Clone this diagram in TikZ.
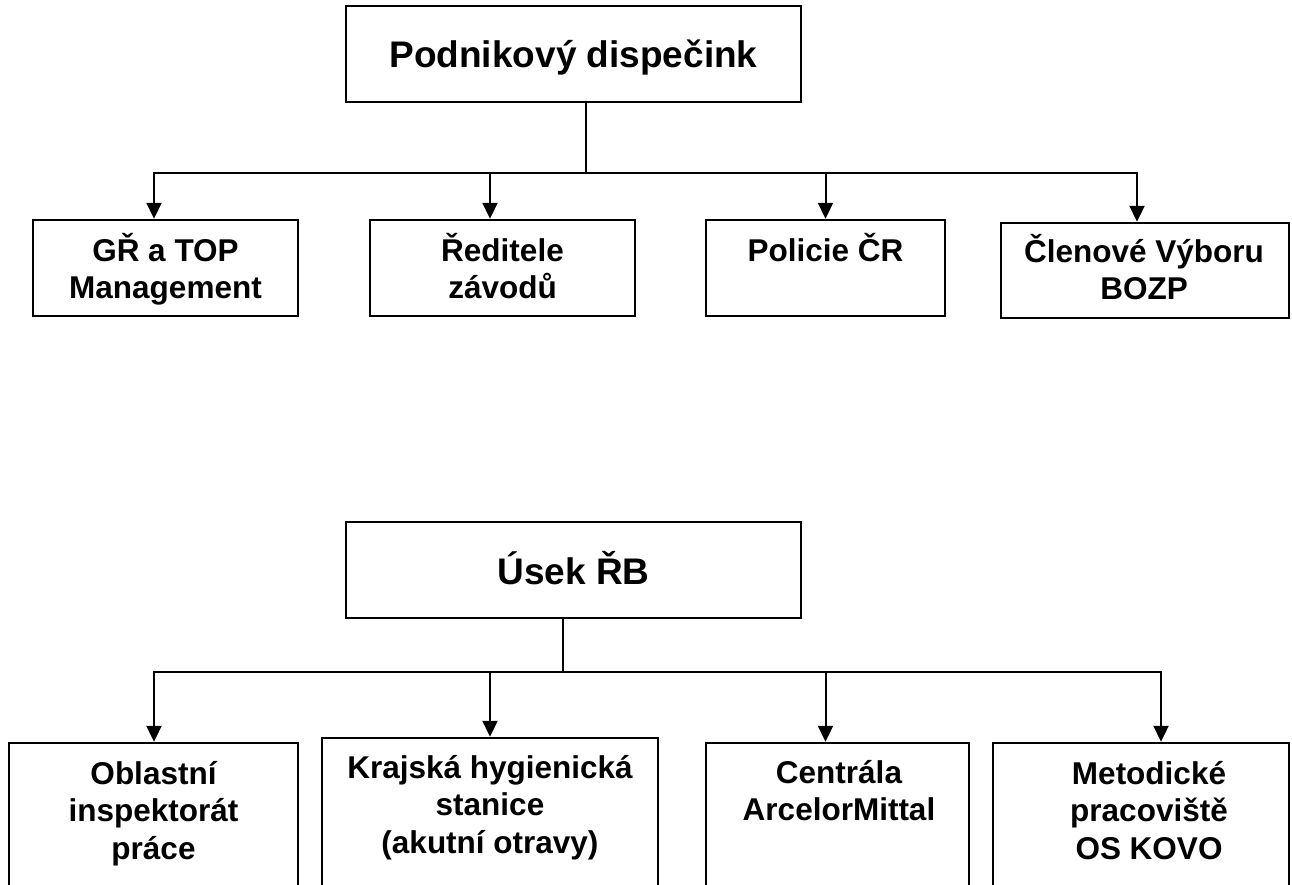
\documentclass[tikz,border=0pt]{standalone}
\usepackage{fontspec}
\setmainfont{Liberation Sans}
\usetikzlibrary{arrows.meta}
\newcommand{\fstrut}{\rule{0pt}{32pt}}
\begin{document}
\begin{tikzpicture}[x=1pt,y=-1pt,
 box/.style={draw=black, line width=2.4pt, rectangle, inner sep=0pt},
 bigtxt/.style={font=\fontsize{37}{44}\selectfont\bfseries, inner sep=0pt, anchor=base},
 smalltxt/.style={font=\fontsize{31.5}{37.5}\selectfont\bfseries, inner sep=0pt, anchor=north, align=center},
 conn/.style={line width=2pt, draw=black},
 arr/.style={conn, -{Triangle[width=15pt,length=16pt]}}]
\useasboundingbox (0,0) rectangle (1292,885);
\fill[white] (0,0) rectangle (1292,885);
\clip (0,0) rectangle (1292,885);

% ---------- upper chart ----------
\node[box, minimum width=455pt, minimum height=96pt] (top) at (573.5,54) {};
\node[bigtxt] (toptxt) at (573.5,68) {Podnikový dispečink};

\node[box, minimum width=265pt, minimum height=96pt] (g1) at (165.5,268) {};
\node[box, minimum width=265pt, minimum height=96pt] (g2) at (502.5,268) {};
\node[box, minimum width=239pt, minimum height=96pt] (g3) at (825.5,268) {};
\node[box, minimum width=288pt, minimum height=95pt] (g4) at (1145,270.5) {};

\node[smalltxt] (g1t) at (165.5,229) {\fstrut GŘ a TOP\\Management};
\node[smalltxt] (g2t) at (502.5,229) {\fstrut Ředitele\\závodů};
\node[smalltxt] (g3t) at (825.5,229) {\fstrut Policie ČR};
\node[smalltxt] (g4t) at (1144,230) {\fstrut Členové Výboru\\BOZP};

\coordinate (j1) at (586,173);
\draw[conn] (top.south -| j1) -- (j1);
\draw[arr] (j1) -| ([xshift=-11.5pt]g1.north);
\draw[arr] (j1) -| ([xshift=-12.5pt]g2.north);
\draw[arr] (j1) -| (g3.north);
\draw[arr] (j1) -| ([xshift=-8pt]g4.north);

% ---------- lower chart ----------
\node[box, minimum width=455pt, minimum height=96pt] (usek) at (573.5,570) {};
\node[bigtxt] (usektxt) at (573.5,584) {Úsek ŘB};

\node[box, minimum width=289pt, minimum height=200pt] (b1) at (153.5,843) {};
\node[box, minimum width=336pt, minimum height=200pt] (b2) at (490,838) {};
\node[box, minimum width=263pt, minimum height=200pt] (b3) at (837.5,843) {};
\node[box, minimum width=296pt, minimum height=200pt] (b4) at (1141,843) {};

\node[smalltxt] (b1t) at (153.5,752) {\fstrut Oblastní\\inspektorát\\práce};
\node[smalltxt] (b2t) at (490,746) {\fstrut Krajská hygienická\\stanice\\(akutní otravy)};
\node[smalltxt] (b3t) at (839,751) {\fstrut Centrála\\ArcelorMittal};
\node[smalltxt] (b4t) at (1149,752) {\fstrut Metodické\\pracoviště\\OS KOVO};

\coordinate (j2) at (563,672);
\draw[conn] (usek.south -| j2) -- (j2);
\draw[arr] (j2) -| ([xshift=0.5pt]b1.north);
\draw[arr] (j2) -| (b2.north);
\draw[arr] (j2) -| ([xshift=-12pt]b3.north);
\draw[arr] (j2) -| ([xshift=20pt]b4.north);
\end{tikzpicture}
\end{document}
